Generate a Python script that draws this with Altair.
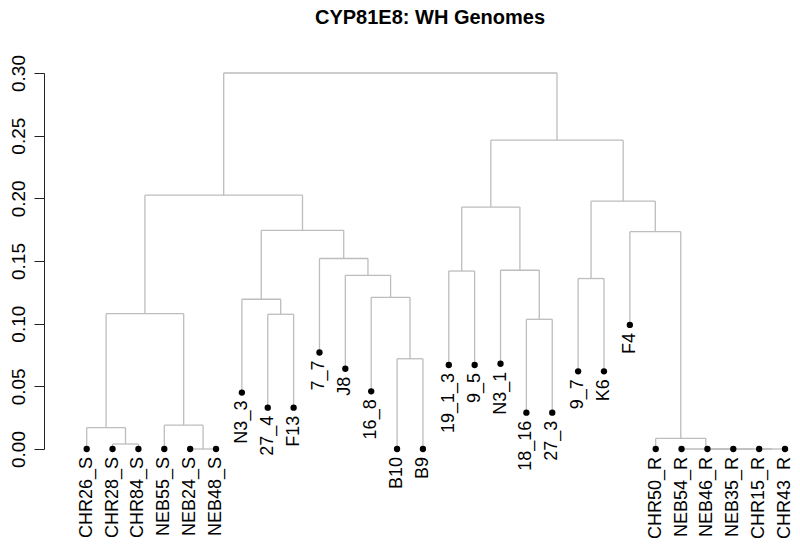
import altair as alt
import pandas as pd

# ---- data ----
leaf_names = ["CHR26_S", "CHR28_S", "CHR84_S", "NEB55_S", "NEB24_S", "NEB48_S",
              "N3_3", "27_4", "F13", "7_7", "J8", "16_8", "B10", "B9",
              "19_1_3", "9_5", "N3_1", "18_16", "27_3",
              "9_7", "K6", "F4",
              "CHR50_R", "NEB54_R", "NEB46_R", "NEB35_R", "CHR15_R", "CHR43_R"]

# height where each leaf's dot sits
leaf_heights = [0.0, 0.0, 0.0, 0.0, 0.0, 0.0,
                0.045, 0.033, 0.033, 0.077, 0.064, 0.046, 0.0, 0.0,
                0.067, 0.067, 0.068, 0.029, 0.029,
                0.062, 0.062, 0.099,
                0.0, 0.0, 0.0, 0.0, 0.0, 0.0]

# merge table (negative = leaf number, positive = earlier merge number)
merge_left = [-5, -27, -26, -25, -24, -2, -23, -1, -4, -13, -18, -8, 8, -7,
              -12, -20, -11, -15, -17, -10, -22, 14, 18, 16, 13, 23, 25]
merge_right = [-6, -28, 2, 3, 4, -3, 5, 6, 1, -14, -19, -9, 9, 12,
               10, -21, 15, -16, 11, 17, 7, 20, 19, 21, 22, 24, 26]
merge_heights = [0.0, 0.0, 0.0, 0.0, 0.0, 0.004, 0.0085, 0.017, 0.019, 0.072,
                 0.1035, 0.1075, 0.108, 0.1195, 0.121, 0.136, 0.1386, 0.142,
                 0.1426, 0.152, 0.1734, 0.1745, 0.193, 0.1977, 0.2025,
                 0.2464, 0.300]

title_text = "CYP81E8: WH Genomes"
y_ticks = [0.0, 0.05, 0.10, 0.15, 0.20, 0.25, 0.30]

# ---- build segments via the midpoint layout rule ----
leaf_x = list(range(len(leaf_names)))
mx, mh = [], []
segs = []


def node(c):
    if c < 0:
        return leaf_x[-c - 1], leaf_heights[-c - 1]
    return mx[c - 1], mh[c - 1]


for a, b, h in zip(merge_left, merge_right, merge_heights):
    xa, ha = node(a)
    xb, hb = node(b)
    segs.append({"x": xa, "x2": xb, "y": h, "y2": h})
    segs.append({"x": xa, "x2": xa, "y": ha, "y2": h})
    segs.append({"x": xb, "x2": xb, "y": hb, "y2": h})
    mx.append((xa + xb) / 2)
    mh.append(h)

seg_df = pd.DataFrame(segs)
leaf_df = pd.DataFrame({"x": leaf_x, "y": leaf_heights, "name": leaf_names})

FONT = "Liberation Sans"
xscale = alt.Scale(domain=[-1.651, 27.27], nice=False, zero=False)
yscale = alt.Scale(domain=[0, 0.30], nice=False, zero=False)

rules = alt.Chart(seg_df).mark_rule(color="#bdbdbd", strokeWidth=1.3).encode(
    x=alt.X("x:Q", scale=xscale, axis=None),
    x2="x2:Q",
    y=alt.Y("y:Q", scale=yscale,
            axis=alt.Axis(values=y_ticks, format=".2f", title=None, grid=False,
                          labelAngle=270, labelAlign="center",
                          labelBaseline="bottom", labelFontSize=19,
                          labelFont=FONT, labelColor="black", labelPadding=6,
                          tickSize=10, tickColor="#222222", domainColor="#222222",
                          tickWidth=1, domainWidth=1, labelFlush=False)),
    y2="y2:Q",
)

dots = alt.Chart(leaf_df).mark_circle(color="black", opacity=1, size=40).encode(
    x=alt.X("x:Q", scale=xscale, axis=None),
    y=alt.Y("y:Q", scale=yscale),
)

labels = alt.Chart(leaf_df).mark_text(
    angle=270, align="right", baseline="middle", dx=-8,
    font=FONT, fontSize=18, color="black"
).encode(
    x=alt.X("x:Q", scale=xscale, axis=None),
    y=alt.Y("y:Q", scale=yscale),
    text="name:N",
)

chart = alt.layer(rules, dots, labels).properties(
    width=748, height=376,
    padding={"left": 36, "top": 65, "right": 0, "bottom": 93},
    autosize=alt.AutoSizeParams(type="none"),
    title=alt.TitleParams(title_text, font=FONT, fontSize=20, fontWeight="bold",
                          anchor="middle", offset=27, dx=12, color="black"),
).configure_view(strokeWidth=0)

chart.save("out.html", embed_options={"renderer": "svg", "actions": False})
